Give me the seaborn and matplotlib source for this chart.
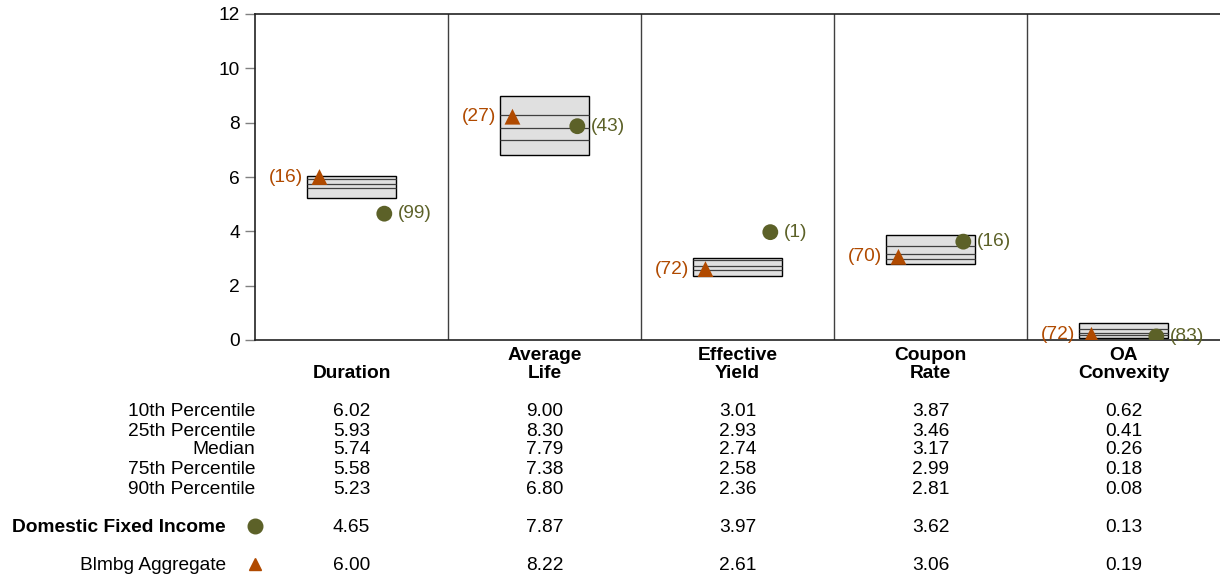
import numpy as np
import pandas as pd
import matplotlib
matplotlib.use("Agg")
import matplotlib.pyplot as plt
import seaborn as sns

# chart data
categories = ['Duration', 'Average\nLife', 'Effective\nYield', 'Coupon\nRate', 'OA\nConvexity']
p10 = [6.02, 9.00, 3.01, 3.87, 0.62]
p25 = [5.93, 8.30, 2.93, 3.46, 0.41]
median = [5.74, 7.79, 2.74, 3.17, 0.26]
p75 = [5.58, 7.38, 2.58, 2.99, 0.18]
p90 = [5.23, 6.80, 2.36, 2.81, 0.08]
fund_vals = [4.65, 7.87, 3.97, 3.62, 0.13]
fund_rank = [99, 43, 1, 16, 83]
index_vals = [6.00, 8.22, 2.61, 3.06, 0.19]
index_rank = [16, 27, 72, 70, 72]
row_names = ['10th Percentile', '25th Percentile', 'Median', '75th Percentile', '90th Percentile']
fund_name = 'Domestic Fixed Income'
index_name = 'Blmbg Aggregate'

sns.set_style("white")
plt.rcParams['font.family'] = ['Liberation Sans', 'DejaVu Sans']
plt.rcParams['text.color'] = 'black'
plt.rcParams['ytick.labelcolor'] = 'black'

fund_color = '#5c6128'
index_color = '#b04a00'
fs = 13.8

W, H = 1220, 575
fig = plt.figure(figsize=(W / 100, H / 100), dpi=100)
ax = fig.add_axes([255 / W, 1 - 340 / H, 965 / W, 326 / H])

x = np.arange(len(categories))
box_w = 0.46

# floating percentile boxes
ax.bar(x, np.array(p10) - np.array(p90), bottom=p90, width=box_w,
       color='#e0e0e0', edgecolor='black', linewidth=1, zorder=2)
for arr in [p25, median, p75]:
    ax.hlines(arr, x - box_w / 2, x + box_w / 2, color='#404040', linewidth=0.9, zorder=3)

pts = pd.DataFrame({
    'x': np.concatenate([x - 0.166, x + 0.17]),
    'y': index_vals + fund_vals,
    'series': [index_name] * 5 + [fund_name] * 5,
})
sns.scatterplot(data=pts, x='x', y='y', hue='series', style='series',
                markers={index_name: '^', fund_name: 'o'},
                palette={index_name: index_color, fund_name: fund_color},
                s=130, edgecolor='none', legend=False, ax=ax, zorder=4)
for i in range(5):
    ax.annotate(f"({index_rank[i]})", (x[i] - 0.166, index_vals[i]), xytext=(-16, 0),
                textcoords='offset pixels', ha='right', va='center',
                color=index_color, fontsize=fs)
    ax.annotate(f"({fund_rank[i]})", (x[i] + 0.17, fund_vals[i]), xytext=(14, 0),
                textcoords='offset pixels', ha='left', va='center',
                color=fund_color, fontsize=fs)

# panel dividers
for xv in x[:-1] + 0.5:
    ax.axvline(xv, color='#404040', linewidth=1, zorder=1)

ax.set_xlim(-0.5, len(categories) - 0.5)
ax.set_ylim(0, 12)
ax.set_yticks(range(0, 13, 2))
ax.set_xticks([])
ax.set_xlabel('')
ax.set_ylabel('')
ax.tick_params(axis='y', left=True, length=7, width=1, color='#808080',
               labelsize=fs, pad=4)
for s in ['left', 'bottom', 'top']:
    ax.spines[s].set_visible(True)
    ax.spines[s].set_color('#222222')
    ax.spines[s].set_linewidth(1.2)
ax.spines['right'].set_visible(False)

# category labels
for i, c in enumerate(categories):
    ax.text(x[i], -0.128, c, transform=ax.get_xaxis_transform(), ha='center', va='bottom',
            fontsize=fs, fontweight='bold', linespacing=1.04)

# value table
def fy(py):
    return 1 - (py + 2) / H

row_y = [410, 429, 448, 467, 487]
tab = [p10, p25, median, p75, p90]
for name, vals, py in zip(row_names, tab, row_y):
    fig.text(255 / W, fy(py), name, ha='right', va='center', fontsize=fs)
    for i, v in enumerate(vals):
        fig.text((255 + 193 * (i + 0.5)) / W, fy(py), f"{v:.2f}", ha='center', va='center', fontsize=fs)

for name, vals, py, mk, col, wt in [(fund_name, fund_vals, 525, 'o', fund_color, 'bold'),
                                     (index_name, index_vals, 563, '^', index_color, 'normal')]:
    fig.text(226 / W, fy(py), name, ha='right', va='center', fontsize=fs, fontweight=wt)
    ax.plot([255 / W], [fy(py - 1)], marker=mk, color=col, markersize=10.5 if mk == 'o' else 9,
            linestyle='none', transform=fig.transFigure, clip_on=False)
    for i, v in enumerate(vals):
        fig.text((255 + 193 * (i + 0.5)) / W, fy(py), f"{v:.2f}", ha='center', va='center', fontsize=fs)

fig.savefig('out.png', dpi=100)
